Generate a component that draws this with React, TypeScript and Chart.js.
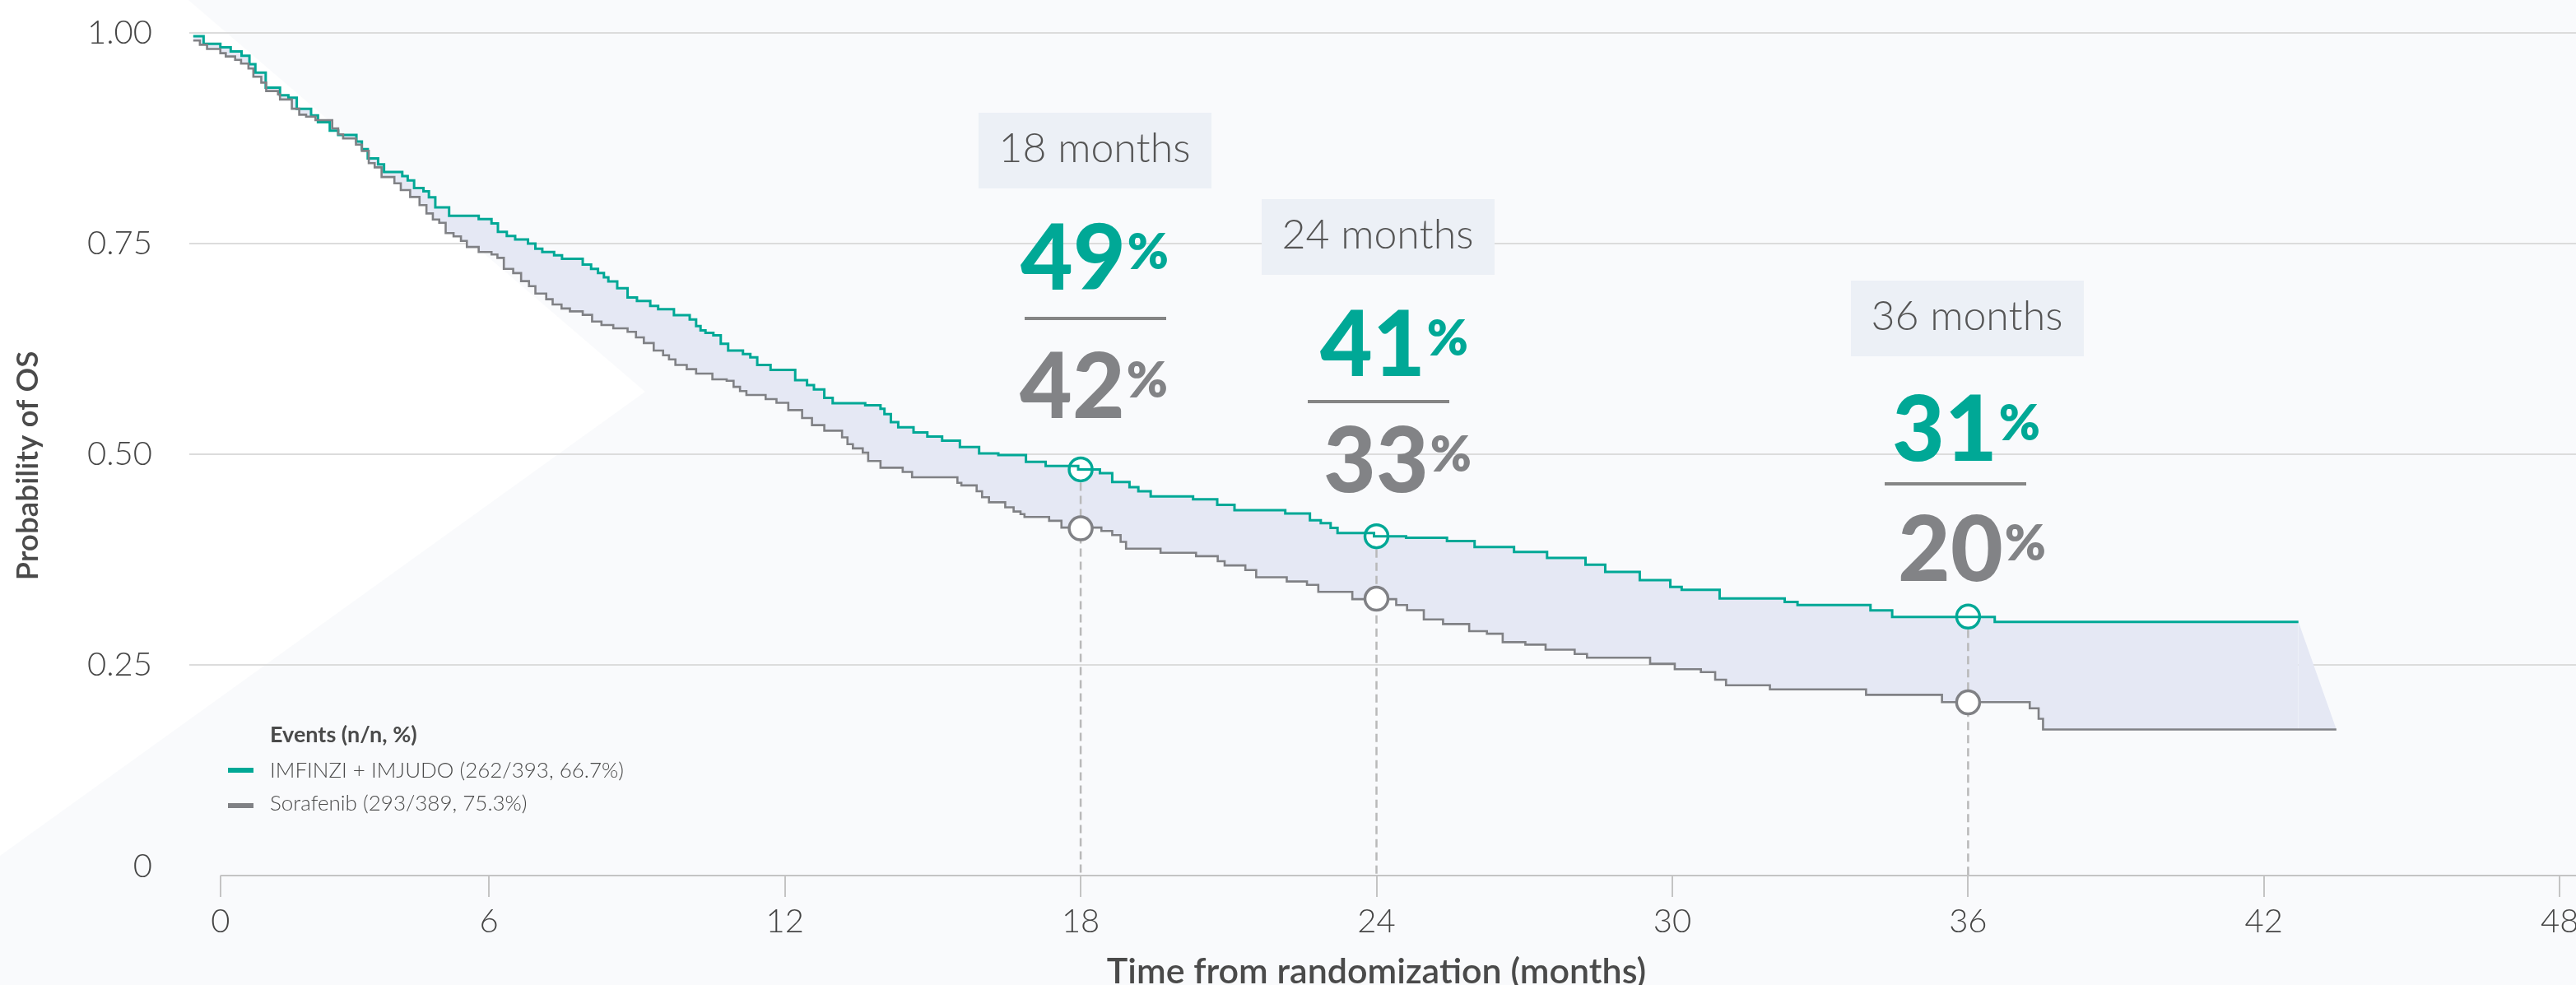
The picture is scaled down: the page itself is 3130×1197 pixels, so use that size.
import { useEffect, useRef } from 'react';
import { Chart, registerables } from 'chart.js';

Chart.register(...registerables);

// ---------- data ----------
const imfinziMonths = [0, 0.21, 0.55, 0.76, 0.98, 1.14, 1.26, 1.47, 1.76, 1.93, 2.10, 2.39, 2.53, 2.77, 2.94, 3.31, 3.42, 3.54, 3.75, 3.87, 4.24, 4.35, 4.48, 4.67, 4.78, 4.91, 5.19, 5.79, 6.05, 6.18, 6.36, 6.53, 6.79, 6.94, 7.08, 7.32, 7.48, 7.90, 8.07, 8.21, 8.33, 8.42, 8.60, 8.81, 9.00, 9.27, 9.43, 9.75, 10.07, 10.20, 10.29, 10.39, 10.55, 10.70, 10.85, 11.15, 11.30, 11.44, 11.71, 12.21, 12.45, 12.59, 12.80, 12.97, 13.63, 13.94, 14.02, 14.15, 14.30, 14.61, 14.89, 15.19, 15.55, 15.94, 16.33, 16.89, 17.29, 17.95, 18.39, 18.64, 18.99, 19.17, 19.42, 20.28, 20.77, 21.12, 22.15, 22.65, 22.87, 23.07, 23.21, 23.95, 24.60, 25.43, 25.99, 26.79, 27.46, 28.24, 28.64, 29.34, 29.96, 30.19, 30.96, 32.28, 32.54, 34.02, 34.46, 36.54, 42.70];
const imfinziSurvival = [0.996, 0.987, 0.983, 0.978, 0.973, 0.963, 0.953, 0.935, 0.926, 0.923, 0.910, 0.902, 0.894, 0.884, 0.879, 0.871, 0.862, 0.851, 0.844, 0.835, 0.830, 0.825, 0.816, 0.812, 0.805, 0.793, 0.783, 0.779, 0.774, 0.764, 0.759, 0.755, 0.750, 0.744, 0.740, 0.736, 0.732, 0.725, 0.720, 0.715, 0.710, 0.705, 0.697, 0.686, 0.682, 0.676, 0.672, 0.665, 0.660, 0.652, 0.647, 0.644, 0.641, 0.631, 0.623, 0.619, 0.615, 0.606, 0.600, 0.588, 0.582, 0.577, 0.567, 0.5605, 0.558, 0.554, 0.5475, 0.538, 0.532, 0.526, 0.521, 0.516, 0.5085, 0.501, 0.499, 0.491, 0.486, 0.482, 0.4775, 0.467, 0.461, 0.456, 0.450, 0.4466, 0.440, 0.4336, 0.4297, 0.4216, 0.4183, 0.4125, 0.4066, 0.4027, 0.401, 0.397, 0.390, 0.384, 0.377, 0.369, 0.3604, 0.3506, 0.3425, 0.339, 0.3288, 0.3248, 0.321, 0.3148, 0.307, 0.301, 0.301];

const sorafenibMonths = [0, 0.135, 0.28, 0.55, 0.66, 0.85, 0.97, 1.12, 1.22, 1.38, 1.48, 1.72, 1.76, 2.00, 2.15, 2.29, 2.48, 2.82, 2.94, 3.04, 3.30, 3.42, 3.56, 3.68, 3.82, 4.08, 4.21, 4.40, 4.59, 4.73, 4.86, 4.99, 5.12, 5.28, 5.43, 5.55, 5.79, 6.05, 6.17, 6.30, 6.49, 6.65, 6.81, 6.94, 7.16, 7.29, 7.47, 7.64, 7.90, 8.09, 8.28, 8.52, 8.81, 8.98, 9.14, 9.34, 9.53, 9.65, 9.78, 10.01, 10.20, 10.53, 10.82, 10.96, 11.09, 11.22, 11.61, 11.83, 12.07, 12.35, 12.55, 12.80, 13.16, 13.27, 13.38, 13.58, 13.69, 13.94, 14.39, 14.58, 15.50, 15.58, 15.89, 16.00, 16.14, 16.47, 16.64, 16.78, 16.86, 17.36, 17.61, 18.42, 18.64, 18.81, 18.92, 19.62, 20.34, 20.78, 20.92, 21.34, 21.56, 22.18, 22.59, 22.82, 23.51, 24.40, 24.62, 24.96, 25.35, 25.88, 26.24, 26.56, 27.02, 27.43, 28.02, 28.27, 29.55, 30.05, 30.58, 30.87, 31.09, 31.98, 33.93, 35.47, 37.25, 37.43, 37.52, 43.47];
const sorafenibSurvival = [0.991, 0.986, 0.981, 0.976, 0.972, 0.968, 0.9636, 0.9577, 0.948, 0.941, 0.931, 0.927, 0.921, 0.910, 0.903, 0.9007, 0.8965, 0.8867, 0.8796, 0.8747, 0.8675, 0.860, 0.8454, 0.8405, 0.829, 0.8216, 0.8135, 0.8053, 0.7956, 0.7858, 0.7786, 0.7747, 0.7624, 0.7585, 0.7532, 0.746, 0.740, 0.737, 0.733, 0.720, 0.715, 0.7054, 0.6995, 0.6907, 0.684, 0.6777, 0.673, 0.6696, 0.6654, 0.6575, 0.6533, 0.6494, 0.6452, 0.6387, 0.632, 0.623, 0.6175, 0.6126, 0.606, 0.601, 0.5957, 0.5889, 0.5872, 0.580, 0.575, 0.5703, 0.5654, 0.561, 0.5524, 0.543, 0.5345, 0.528, 0.520, 0.512, 0.507, 0.502, 0.492, 0.484, 0.479, 0.4727, 0.466, 0.463, 0.456, 0.449, 0.443, 0.437, 0.432, 0.429, 0.4255, 0.421, 0.413, 0.409, 0.404, 0.396, 0.388, 0.383, 0.379, 0.373, 0.368, 0.3626, 0.354, 0.349, 0.345, 0.3366, 0.328, 0.321, 0.315, 0.304, 0.2985, 0.290, 0.287, 0.277, 0.274, 0.268, 0.263, 0.2585, 0.2513, 0.2448, 0.2415, 0.2324, 0.2259, 0.221, 0.2145, 0.2058, 0.1985, 0.186, 0.1734, 0.1734];

const landmarkMonths = [18, 24, 36];
const landmarkLabels = ['18 months', '24 months', '36 months'];
const landmarkImfinzi = [0.482, 0.4027, 0.3073];
const landmarkSorafenib = [0.412, 0.3285, 0.2055];
const landmarkImfinziPct = ['49', '41', '31'];
const landmarkSorafenibPct = ['42', '33', '20'];

const xTickValues = [0, 6, 12, 18, 24, 30, 36, 42, 48];
const yTickValues = [0, 0.25, 0.5, 0.75, 1];

const seriesNames = ['IMFINZI + IMJUDO (262/393, 66.7%)', 'Sorafenib (293/389, 75.3%)'];
const legendTitle = 'Events (n/n, %)';
const xTitle = 'Time from randomization (months)';
const yTitle = 'Probability of OS';

// ---------- styles / layout ----------
const TEAL = '#00a896';
const GRAY = '#808185';
const BAND = '#e5e8f4';
const TEXT = '#4a4a4a';
const FONT = 'Lato, "Open Sans", "DejaVu Sans", sans-serif';
const X_MIN = -0.08;
const X_MAX = 48.33;
const ZERO_TICK_X = 0.55;
const ZERO_TICK_Y = 0.011;

const LANDMARK_LAYOUT = [
  { box: 1330, boxTop: 137, top: 1330, topBase: 352, div: 1331, divY: 385, bot: 1329, botBase: 508 },
  { box: 1674, boxTop: 242, top: 1694, topBase: 457, div: 1675, divY: 486, bot: 1698, botBase: 598 },
  { box: 2390, boxTop: 341, top: 2389, topBase: 560, div: 2376, divY: 586, bot: 2396, botBase: 706 },
];

const pts = (xs: number[], ys: number[]) => xs.map((x, i) => ({ x, y: ys[i] }));

const backgroundPlugin = {
  id: 'bgShape',
  beforeDraw(chart: any) {
    const { ctx, width, height } = chart;
    ctx.save();
    ctx.fillStyle = '#f9fafc';
    ctx.fillRect(0, 0, width, height);
    ctx.fillStyle = '#ffffff';
    ctx.beginPath();
    ctx.moveTo(0, 0);
    ctx.lineTo(229, 0);
    ctx.lineTo(784, 476);
    ctx.lineTo(0, 1040);
    ctx.closePath();
    ctx.fill();
    ctx.restore();
  },
};

function drawPct(ctx: CanvasRenderingContext2D, num: string, cx: number, base: number, color: string) {
  ctx.font = `900 110px ${FONT}`;
  const w1 = ctx.measureText(num).width;
  ctx.font = `800 60px ${FONT}`;
  const w2 = ctx.measureText('%').width;
  const start = cx - (w1 + w2 + 2) / 2;
  ctx.fillStyle = color;
  ctx.textAlign = 'left';
  ctx.textBaseline = 'alphabetic';
  ctx.font = `900 110px ${FONT}`;
  ctx.fillText(num, start, base);
  ctx.font = `800 60px ${FONT}`;
  ctx.fillText('%', start + w1 + 2, base - 25);
}

const overlayPlugin = {
  id: 'overlay',
  afterDatasetsDraw(chart: any) {
    const { ctx } = chart;
    const xs = chart.scales.x;
    ctx.save();
    // landmark annotations
    landmarkMonths.forEach((m, i) => {
      const L = LANDMARK_LAYOUT[i];
      ctx.fillStyle = '#ecf0f6';
      ctx.fillRect(L.box - 141, L.boxTop, 283, 92);
      ctx.fillStyle = '#555555';
      ctx.font = `300 50px ${FONT}`;
      ctx.textAlign = 'center';
      ctx.textBaseline = 'alphabetic';
      ctx.fillText(landmarkLabels[i], L.box, L.boxTop + 60);
      drawPct(ctx, landmarkImfinziPct[i], L.top, L.topBase, TEAL);
      ctx.fillStyle = '#858585';
      ctx.fillRect(L.div - 86, L.divY, 172, 4);
      drawPct(ctx, landmarkSorafenibPct[i], L.bot, L.botBase, '#828386');
    });
    // legend
    ctx.textAlign = 'left';
    ctx.textBaseline = 'alphabetic';
    ctx.fillStyle = TEXT;
    ctx.font = `700 27px ${FONT}`;
    ctx.fillText(legendTitle, 328, 902);
    ctx.fillStyle = TEAL;
    ctx.fillRect(277, 933, 31, 6);
    ctx.fillStyle = GRAY;
    ctx.fillRect(277, 976, 31, 6);
    ctx.fillStyle = TEXT;
    ctx.font = `300 26px ${FONT}`;
    ctx.fillText(seriesNames[0], 328, 945);
    ctx.fillText(seriesNames[1], 328, 985);
    // axis titles
    ctx.font = `600 43px ${FONT}`;
    ctx.fillStyle = TEXT;
    ctx.textAlign = 'center';
    ctx.textBaseline = 'middle';
    ctx.fillText(xTitle, xs.getPixelForValue(24), 1181);
    ctx.translate(34, 566);
    ctx.rotate(-Math.PI / 2);
    ctx.font = `600 37px ${FONT}`;
    ctx.fillText(yTitle, 0, 0);
    ctx.restore();
  },
};

export default function App() {
  const ref = useRef<HTMLCanvasElement | null>(null);

  useEffect(() => {
    const canvas = ref.current;
    if (!canvas) return;
    const imf = pts(imfinziMonths, imfinziSurvival);
    const sor = pts(sorafenibMonths, sorafenibSurvival);
    const dashed = landmarkMonths.map((m, i) => ({
      data: [{ x: m, y: landmarkImfinzi[i] }, { x: m, y: 0 }],
      borderColor: '#b9b9b9',
      borderWidth: 2.5,
      borderDash: [10, 6],
      pointRadius: 0,
      fill: false,
      order: 30,
      clip: false,
    }));
    const chart = new Chart(canvas, {
      type: 'line',
      data: {
        datasets: [
          {
            label: seriesNames[0],
            data: imf,
            stepped: 'before',
            borderColor: TEAL,
            borderWidth: 3,
            pointRadius: 0,
            fill: 1,
            backgroundColor: BAND,
            order: 5,
          },
          {
            label: seriesNames[1],
            data: sor,
            stepped: 'before',
            borderColor: GRAY,
            borderWidth: 2.6,
            pointRadius: 0,
            fill: false,
            order: 4,
          },
          {
            label: 'band end',
            data: [imf[imf.length - 1], sor[sor.length - 1]],
            borderWidth: 0,
            borderColor: 'rgba(0,0,0,0)',
            pointRadius: 0,
            fill: 1,
            backgroundColor: BAND,
            order: 40,
          },
          {
            label: 'axis',
            data: [{ x: ZERO_TICK_X, y: 0 }, { x: X_MAX, y: 0 }],
            borderColor: '#c4c4c4',
            borderWidth: 2,
            pointRadius: 0,
            fill: false,
            order: 35,
            clip: false,
          },
          ...dashed,
          {
            label: 'imfinzi landmarks',
            data: pts(landmarkMonths, landmarkImfinzi),
            showLine: false,
            pointRadius: 14,
            pointBorderWidth: 3.5,
            pointBorderColor: TEAL,
            pointBackgroundColor: '#ffffff',
            order: 6,
          },
          {
            label: 'sorafenib landmarks',
            data: pts(landmarkMonths, landmarkSorafenib),
            showLine: false,
            pointRadius: 14,
            pointBorderWidth: 3.5,
            pointBorderColor: GRAY,
            pointBackgroundColor: '#ffffff',
            order: 1,
          },
        ] as any,
      },
      options: {
        responsive: false,
        animation: false,
        devicePixelRatio: 1,
        events: [],
        layout: { autoPadding: false, padding: { top: 40, right: 0, left: 0, bottom: 0 } },
        plugins: {
          legend: { display: false },
          tooltip: { enabled: false },
          filler: { drawTime: 'beforeDatasetsDraw' },
        } as any,
        scales: {
          x: {
            type: 'linear',
            min: X_MIN,
            max: X_MAX,
            afterBuildTicks: (s: any) => {
              s.ticks = xTickValues.map((v) => ({ value: v === 0 ? ZERO_TICK_X : v }));
            },
            afterFit: (s: any) => {
              s.height = 133;
              s.paddingLeft = 0;
              s.paddingRight = 0;
            },
            grid: { drawOnChartArea: false, drawTicks: true, tickLength: 26, color: '#c4c4c4', lineWidth: 2 },
            border: { display: false },
            ticks: {
              callback: (v: any) => (v < 1 ? '0' : String(v)),
              font: { family: FONT, size: 40, weight: 300 },
              color: '#454545',
              padding: 6,
              maxRotation: 0,
              autoSkip: false,
            },
          },
          y: {
            type: 'linear',
            min: 0,
            max: 1,
            afterBuildTicks: (s: any) => {
              s.ticks = yTickValues.map((v) => ({ value: v === 0 ? ZERO_TICK_Y : v }));
            },
            afterFit: (s: any) => {
              s.width = 230;
              s.paddingTop = 0;
              s.paddingBottom = 0;
            },
            grid: {
              drawTicks: false,
              lineWidth: 2,
              color: (c: any) => (c.tick && c.tick.value < 0.1 ? 'rgba(0,0,0,0)' : '#dcdcdc'),
            },
            border: { display: false },
            ticks: {
              callback: (v: any) => (v < 0.1 ? '0' : Number(v).toFixed(2)),
              font: { family: FONT, size: 40, weight: 300 },
              color: '#454545',
              padding: 45,
            },
          },
        },
      } as any,
      plugins: [backgroundPlugin, overlayPlugin],
    });
    return () => chart.destroy();
  }, []);

  return (
    <div style={{ position: 'absolute', left: 0, top: 0, width: 3130, height: 1197 }}>
      <canvas ref={ref} width={3130} height={1197} style={{ display: 'block', width: 3130, height: 1197 }} />
    </div>
  );
}
